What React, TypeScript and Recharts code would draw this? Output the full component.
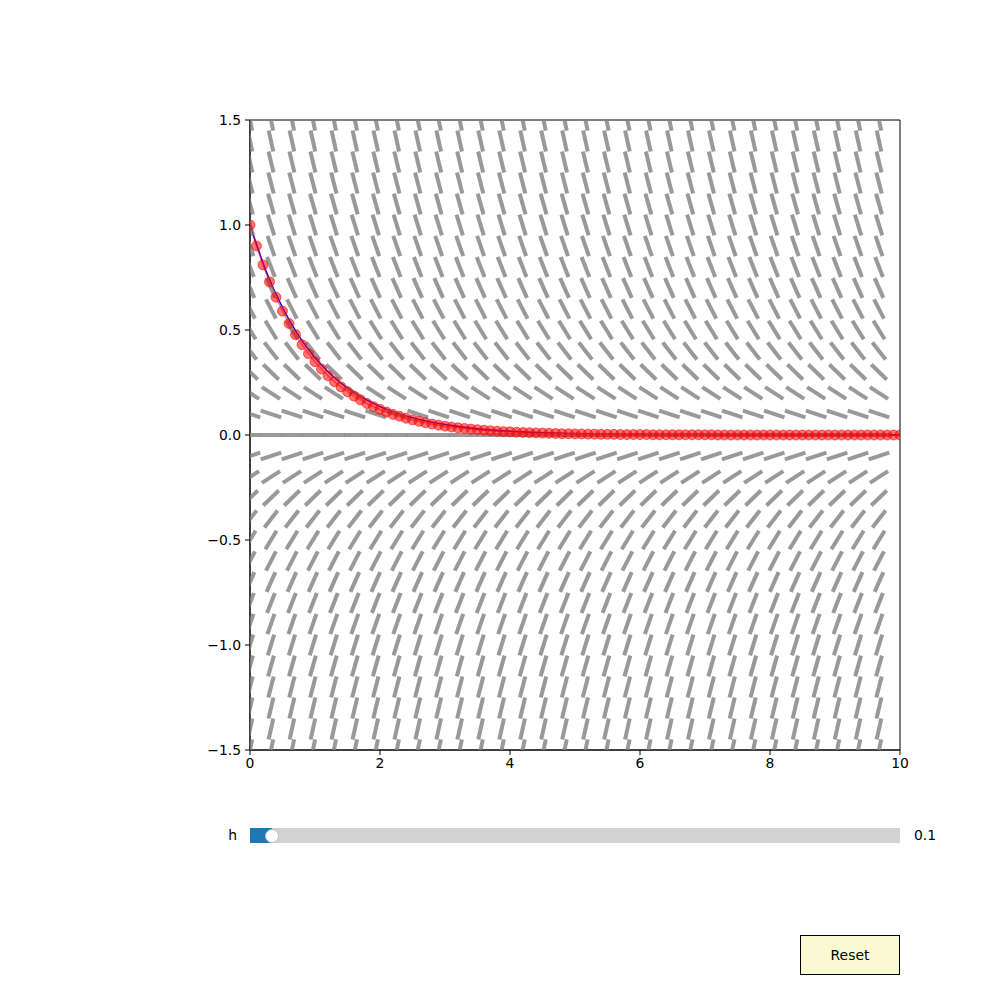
import {
  ComposedChart,
  Line,
  Scatter,
  XAxis,
  YAxis,
  ReferenceArea,
} from 'recharts'

// slope field grid (dy/dx = -y)
const FIELD_X = [
  0, 0.323, 0.645, 0.968, 1.29, 1.613, 1.935, 2.258, 2.581, 2.903, 3.226, 3.548, 3.871, 4.194, 4.516, 4.839,
  5.161, 5.484, 5.806, 6.129, 6.452, 6.774, 7.097, 7.419, 7.742, 8.065, 8.387, 8.71, 9.032, 9.355, 9.677,
]
const FIELD_Y = [
  -1.5, -1.4, -1.3, -1.2, -1.1, -1.0, -0.9, -0.8, -0.7, -0.6, -0.5, -0.4, -0.3, -0.2, -0.1, 0,
  0.1, 0.2, 0.3, 0.4, 0.5, 0.6, 0.7, 0.8, 0.9, 1.0, 1.1, 1.2, 1.3, 1.4, 1.5,
]
const dydx = (_x: number, y: number) => -y

// exact solution
const EXACT_X = [0, 0.25, 0.5, 0.75, 1, 1.25, 1.5, 1.75, 2, 2.25, 2.5, 2.75, 3, 3.5, 4, 4.5, 5, 6, 7, 8, 9, 10]
const EXACT_Y = [1, 0.779, 0.607, 0.472, 0.368, 0.287, 0.223, 0.174, 0.135, 0.105, 0.082, 0.064, 0.05, 0.03, 0.018, 0.011, 0.007, 0.002, 0.001, 0, 0, 0]

// Euler steps, h = 0.1
const EULER_X = [
  0, 0.1, 0.2, 0.3, 0.4, 0.5, 0.6, 0.7, 0.8, 0.9,
  1.0, 1.1, 1.2, 1.3, 1.4, 1.5, 1.6, 1.7, 1.8, 1.9,
  2.0, 2.1, 2.2, 2.3, 2.4, 2.5, 2.6, 2.7, 2.8, 2.9,
  3.0, 3.1, 3.2, 3.3, 3.4, 3.5, 3.6, 3.7, 3.8, 3.9,
  4.0, 4.1, 4.2, 4.3, 4.4, 4.5, 4.6, 4.7, 4.8, 4.9,
  5.0, 5.1, 5.2, 5.3, 5.4, 5.5, 5.6, 5.7, 5.8, 5.9,
  6.0, 6.1, 6.2, 6.3, 6.4, 6.5, 6.6, 6.7, 6.8, 6.9,
  7.0, 7.1, 7.2, 7.3, 7.4, 7.5, 7.6, 7.7, 7.8, 7.9,
  8.0, 8.1, 8.2, 8.3, 8.4, 8.5, 8.6, 8.7, 8.8, 8.9,
  9.0, 9.1, 9.2, 9.3, 9.4, 9.5, 9.6, 9.7, 9.8, 9.9,
  10.0,
]
const EULER_Y = [
  1.0, 0.9, 0.81, 0.729, 0.656, 0.59, 0.531, 0.478, 0.43, 0.387,
  0.349, 0.314, 0.282, 0.254, 0.229, 0.206, 0.185, 0.167, 0.15, 0.135,
  0.122, 0.109, 0.098, 0.089, 0.08, 0.072, 0.065, 0.058, 0.052, 0.047,
  0.042, 0.038, 0.034, 0.031, 0.028, 0.025, 0.023, 0.02, 0.018, 0.016,
  0.015, 0.013, 0.012, 0.011, 0.01, 0.009, 0.008, 0.007, 0.006, 0.006,
  0.005, 0.005, 0.004, 0.004, 0.003, 0.003, 0.003, 0.002, 0.002, 0.002,
  0.002, 0.002, 0.001, 0.001, 0.001, 0.001, 0.001, 0.001, 0.001, 0.001,
  0.001, 0.001, 0, 0, 0, 0, 0, 0, 0, 0,
  0, 0, 0, 0, 0, 0, 0, 0, 0, 0,
  0, 0, 0, 0, 0, 0, 0, 0, 0, 0,
  0,
]

const X_TICKS = [0, 2, 4, 6, 8, 10]
const Y_TICKS = [-1.5, -1.0, -0.5, 0, 0.5, 1.0, 1.5]
const H_VALUE = '0.1'

const fieldData = FIELD_Y.flatMap((y) => FIELD_X.map((x) => ({ x, y, slope: dydx(x, y) })))
const exactData = EXACT_X.map((x, i) => ({ x, y: EXACT_Y[i] }))
const eulerData = EULER_X.map((x, i) => ({ x, y: EULER_Y[i] }))

const FONT = '"DejaVu Sans", sans-serif'
const FS = 13.9
const PLOT_W = 650
const PLOT_H = 630
const SX = PLOT_W / 10
const SY = PLOT_H / 3
const HALF_LEN = 10.8

const SlopeMark = (props: any) => {
  const { cx, cy, payload } = props
  if (cx == null || cy == null) return null
  const dx = SX
  const dy = -payload.slope * SY
  const n = Math.hypot(dx, dy)
  const ux = (dx / n) * HALF_LEN
  const uy = (dy / n) * HALF_LEN
  return (
    <line
      x1={cx - ux}
      y1={cy - uy}
      x2={cx + ux}
      y2={cy + uy}
      stroke="#808080"
      strokeOpacity={0.8}
      strokeWidth={4}
    />
  )
}

const fmtY = (v: number) => (v < 0 ? '\u2212' : '') + Math.abs(v).toFixed(1)

export default function App() {
  return (
    <div style={{ position: 'absolute', left: 0, top: 0, width: 1000, height: 1000, fontFamily: FONT }}>
      <ComposedChart width={1000} height={1000} margin={{ top: 120, right: 100, bottom: 220, left: 190 }}>
        <XAxis
          dataKey="x"
          type="number"
          domain={[0, 10]}
          ticks={X_TICKS}
          allowDataOverflow
          height={30}
          stroke="#000"
          tickSize={5}
          tickMargin={3}
          tick={{ fill: '#000', fontSize: FS, fontFamily: FONT }}
        />
        <YAxis
          dataKey="y"
          type="number"
          domain={[-1.5, 1.5]}
          ticks={Y_TICKS}
          allowDataOverflow
          width={60}
          stroke="#000"
          tickSize={5}
          tickMargin={4}
          tickFormatter={fmtY}
          tick={{ fill: '#000', fontSize: FS, fontFamily: FONT }}
        />
        <Scatter data={fieldData} shape={SlopeMark} isAnimationActive={false} />
        <Line
          data={exactData}
          dataKey="y"
          type="monotone"
          stroke="blue"
          strokeWidth={1.5}
          dot={false}
          isAnimationActive={false}
        />
        <Line
          data={eulerData}
          dataKey="y"
          type="linear"
          stroke="red"
          strokeOpacity={0.5}
          strokeWidth={1.5}
          dot={{ r: 5, fill: 'red', fillOpacity: 0.55, stroke: 'red', strokeOpacity: 0.55, strokeWidth: 1 }}
          isAnimationActive={false}
        />
        <ReferenceArea x1={0} x2={10} y1={-1.5} y2={1.5} fill="none" stroke="#000" strokeWidth={1} />
      </ComposedChart>

      {/* h slider */}
      <div style={{ position: 'absolute', left: 0, width: 237, top: 826, height: 18, lineHeight: '18px', textAlign: 'right', fontSize: FS }}>h</div>
      <div style={{ position: 'absolute', left: 250, top: 828, width: 650, height: 15, background: '#d3d3d3' }} />
      <div style={{ position: 'absolute', left: 250, top: 828, width: 22, height: 15, background: '#1f77b4' }} />
      <div
        style={{
          position: 'absolute',
          left: 265,
          top: 828.5,
          width: 14,
          height: 14,
          borderRadius: '50%',
          background: '#fff',
          border: '1px solid #bfbfbf',
          boxSizing: 'border-box',
        }}
      />
      <div style={{ position: 'absolute', left: 914, top: 826, height: 18, lineHeight: '18px', fontSize: FS }}>{H_VALUE}</div>

      {/* reset button */}
      <div
        style={{
          position: 'absolute',
          left: 800,
          top: 935,
          width: 100,
          height: 40,
          boxSizing: 'border-box',
          border: '1px solid #000',
          background: '#fafad2',
          display: 'flex',
          alignItems: 'center',
          justifyContent: 'center',
          fontSize: FS,
        }}
      >
        Reset
      </div>
    </div>
  )
}
